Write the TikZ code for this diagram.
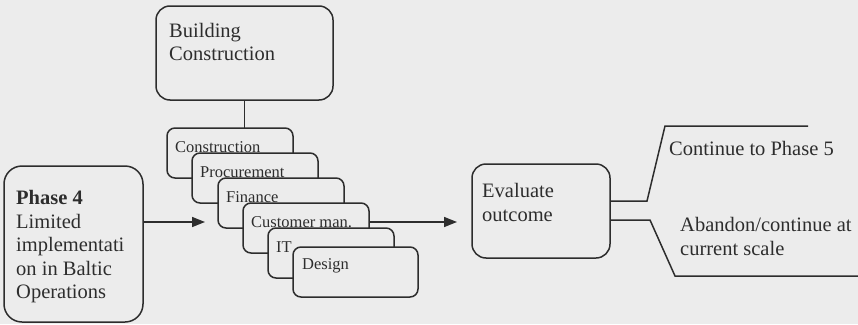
\documentclass[tikz,border=0pt]{standalone}
\usepackage{fontspec}
\setmainfont{Liberation Serif}
\usetikzlibrary{arrows.meta,calc}
\definecolor{paper}{RGB}{236,236,236}
\definecolor{ink}{RGB}{45,45,45}
\begin{document}
\begin{tikzpicture}[x=1pt,y=-1pt,
  every node/.style={text=ink},
  bigbox/.style={draw=ink, line width=1.5pt, rounded corners=14pt, fill=paper,
    inner sep=0pt, outer sep=0pt, anchor=north west},
  deptbox/.style={draw=ink, line width=1.5pt, rounded corners=8pt, fill=paper,
    minimum width=126pt, minimum height=50pt, inner sep=0pt, outer sep=0pt,
    anchor=north west},
  depttext/.style={font=\fontsize{16.5}{19}\selectfont, anchor=west, inner sep=0pt},
  maintext/.style={font=\fontsize{20.5}{23.5}\selectfont, align=left,
    inner sep=0pt, anchor=west},
  sidetext/.style={font=\fontsize{20.5}{23.5}\selectfont, align=left,
    inner sep=0pt, anchor=west},
  link/.style={draw=ink, line width=1.5pt},
  arrow/.style={link, -{Triangle[length=13pt,width=10pt]}}]
\fill[paper] (0,0) rectangle (858,324);
\useasboundingbox (0,0) rectangle (858,324);

% top box
\node[bigbox, minimum width=177pt, minimum height=94pt] (build) at (156,6) {};
\node[maintext] (buildtext) at (169,42) {Building\\Construction};

% starting phase
\node[bigbox, rounded corners=18pt, minimum width=139pt, minimum height=156pt]
  (phase) at (4,166) {};
\node[maintext] (phasetext) at (16,247)
  {\textbf{Phase 4}\\Limited\\implementati\\on in Baltic\\Operations};

% stacked departments
\node[deptbox] (cons) at (167,128) {};
\node[depttext] at ($(cons.north west)+(8,19)$) {Construction};
\node[deptbox] (proc) at (192,153) {};
\node[depttext] at ($(proc.north west)+(8,19)$) {Procurement};
\node[deptbox] (fin) at (218,178) {};
\node[depttext] at ($(fin.north west)+(8,19)$) {Finance};
\node[deptbox] (cust) at (243,203) {};
\node[depttext] at ($(cust.north west)+(8,19)$) {Customer man.};
\node[deptbox] (it) at (268,228) {};
\node[depttext] at ($(it.north west)+(8,19)$) {IT};
\node[deptbox, minimum width=125pt] (design) at (293,247) {};
\node[depttext] at ($(design.north west)+(9,19)$) {Design};

% evaluation
\node[bigbox, minimum width=138pt, minimum height=94pt] (eval) at (472,164) {};
\node[maintext] (evaltext) at (482,202.5) {Evaluate\\outcome};

% outcomes
\node[sidetext] (cont) at (669,148) {Continue to Phase 5};
\node[sidetext] (aband) at (680,236.5) {Abandon/continue at\\current scale};

% connectors
\coordinate (row) at (0,222);
\coordinate (stackin) at (205,222);
\coordinate (upstart) at (0,201);
\coordinate (lowstart) at (0,220);
\coordinate (upend) at (808,126);
\coordinate (lowend) at (858,276);

\draw[link] (build.south) -- (build.south |- cons.north);
\draw[arrow] (phase.east |- row) -- (stackin);
\draw[arrow, shorten >=15pt] (cust.east |- row) -- (eval.west |- row);
\draw[link] (eval.east |- upstart) -- (647,201) -- (665,126) -- (upend);
\draw[link] (eval.east |- lowstart) -- (650,220) -- (675,276) -- (lowend);
\end{tikzpicture}
\end{document}
